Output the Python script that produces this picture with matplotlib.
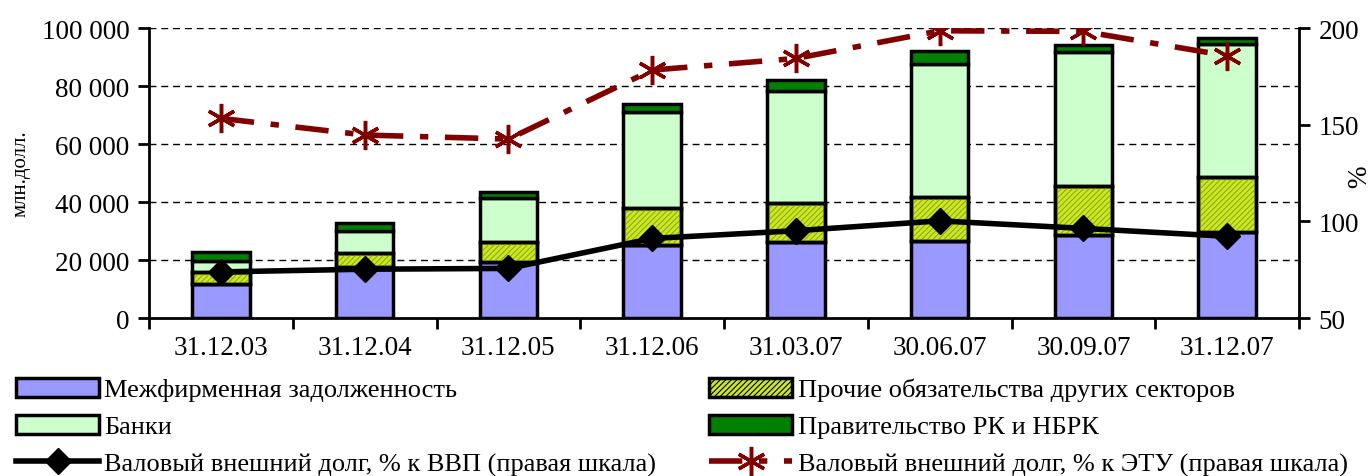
import numpy as np
import matplotlib
matplotlib.use("Agg")
import matplotlib.pyplot as plt
from matplotlib.patches import Patch
from matplotlib.lines import Line2D
from matplotlib.ticker import FuncFormatter

plt.rcParams['font.family'] = ['Liberation Serif', 'DejaVu Serif']
plt.rcParams['hatch.linewidth'] = 0.8

dates = ['31.12.03', '31.12.04', '31.12.05', '31.12.06',
         '31.03.07', '30.06.07', '30.09.07', '31.12.07']
# млн. долл.
interfirm = [11700, 17700, 19200, 25300, 26300, 26450, 28600, 29800]
other_sectors = [4250, 4600, 7100, 12500, 13550, 15150, 17000, 18950]
banks = [3600, 7600, 15200, 33300, 38300, 46000, 46000, 45750]
government = [3100, 2850, 1850, 2800, 3800, 4600, 2550, 1950]
# % (правая шкала)
debt_gdp = [73.9, 75.3, 75.7, 91.2, 95.2, 100.3, 96.4, 92.3]
debt_etu = [153.3, 144.7, 142.6, 178.3, 184.3, 198.6, 198.3, 185.7]

fs = 19.5
lfs = 19
x = np.arange(len(dates))
w = 0.4

fig = plt.figure(figsize=(13.7, 4.77), dpi=100)
ax = fig.add_axes([0.1088, 0.331, 0.8394, 0.608])
ax.set_axisbelow(True)

series = [
    (interfirm, '#9999FF', None, None),
    (other_sectors, '#CCE62E', '//////', '#8FB000'),
    (banks, '#CCFFCC', None, None),
    (government, '#008000', None, None),
]
bottom = np.zeros(len(dates))
for vals, col, hatch, hcol in series:
    ax.bar(x, vals, w, bottom=bottom, color=col, edgecolor='black', linewidth=2.5, zorder=2)
    if hatch:
        ax.bar(x, vals, w, bottom=bottom, color='none', edgecolor=hcol, hatch=hatch,
               linewidth=0, zorder=2.5)
        ax.bar(x, vals, w, bottom=bottom, color='none', edgecolor='black',
               linewidth=2.5, zorder=2.6)
    bottom += np.array(vals)

ax.set_xlim(-0.5, len(dates) - 0.5)
ax.set_ylim(0, 100000)
ax.set_yticks(np.arange(0, 100001, 20000))
ax.yaxis.set_major_formatter(FuncFormatter(lambda v, p: f'{int(v):,}'.replace(',', ' ')))
ax.set_xticks(x)
ax.set_xticklabels(dates)
ax.set_xticks(np.arange(-0.5, len(dates), 1), minor=True)
ax.tick_params(axis='x', which='major', length=0, pad=12, labelsize=fs)
ax.tick_params(axis='x', which='minor', length=8, width=2, direction='out')
ax.tick_params(axis='y', length=8, width=2, labelsize=fs, pad=6)
for yv in range(20000, 100001, 20000):
    ax.axhline(yv, color='black', linestyle=(0, (5, 3.5)), linewidth=1, zorder=1)
ax.spines['top'].set_visible(False)
ax.spines['right'].set_visible(False)
ax.spines['left'].set_linewidth(2)
ax.spines['bottom'].set_linewidth(2)
ax.set_ylabel('млн.долл.', fontsize=15, labelpad=8)

ax2 = ax.twinx()
ax2.set_ylim(50, 200)
ax2.set_yticks([50, 100, 150, 200])
ax2.tick_params(axis='y', length=8, width=2, labelsize=fs, pad=6)
for s in ['top', 'left', 'bottom']:
    ax2.spines[s].set_visible(False)
ax2.spines['right'].set_linewidth(2)

ax2.plot(x, debt_gdp, color='black', linewidth=4, marker='D', markersize=13, zorder=3)
ax2.plot(x, debt_etu, color='#800000', linewidth=4, dashes=(6, 3, 1.5, 3),
         marker=(6, 2, 0), markersize=21, markeredgewidth=2.5, zorder=3)
fig.text(0.9925, 0.63, '%', rotation=90, fontsize=fs, ha='center', va='center')

handles = [
    Patch(facecolor='#9999FF', edgecolor='black', linewidth=2.5),
    Patch(facecolor='#CCFFCC', edgecolor='black', linewidth=2.5),
    Line2D([], [], color='black', linewidth=4, marker='D', markersize=13),
    Patch(facecolor='#CCE62E', edgecolor='black', linewidth=2.5, hatch='//////'),
    Patch(facecolor='#008000', edgecolor='black', linewidth=2.5),
    Line2D([], [], color='#800000', linewidth=4, dashes=(6, 3, 1.5, 3),
           marker=(6, 2, 0), markersize=21, markeredgewidth=2.5),
]
labels = [
    'Межфирменная задолженность',
    'Банки',
    'Валовый внешний долг, % к ВВП (правая шкала)',
    'Прочие обязательства других секторов',
    'Правительство РК и НБРК',
    'Валовый внешний долг, % к ЭТУ (правая шкала)',
]
fig.legend(handles, labels, ncol=2, loc='lower left', bbox_to_anchor=(0.004, -0.022),
           frameon=False, fontsize=lfs, handlelength=3.15, handleheight=0.75,
           handletextpad=0.2, columnspacing=2.0, labelspacing=0.5, borderaxespad=0)

fig.savefig('out.png', dpi=100)
